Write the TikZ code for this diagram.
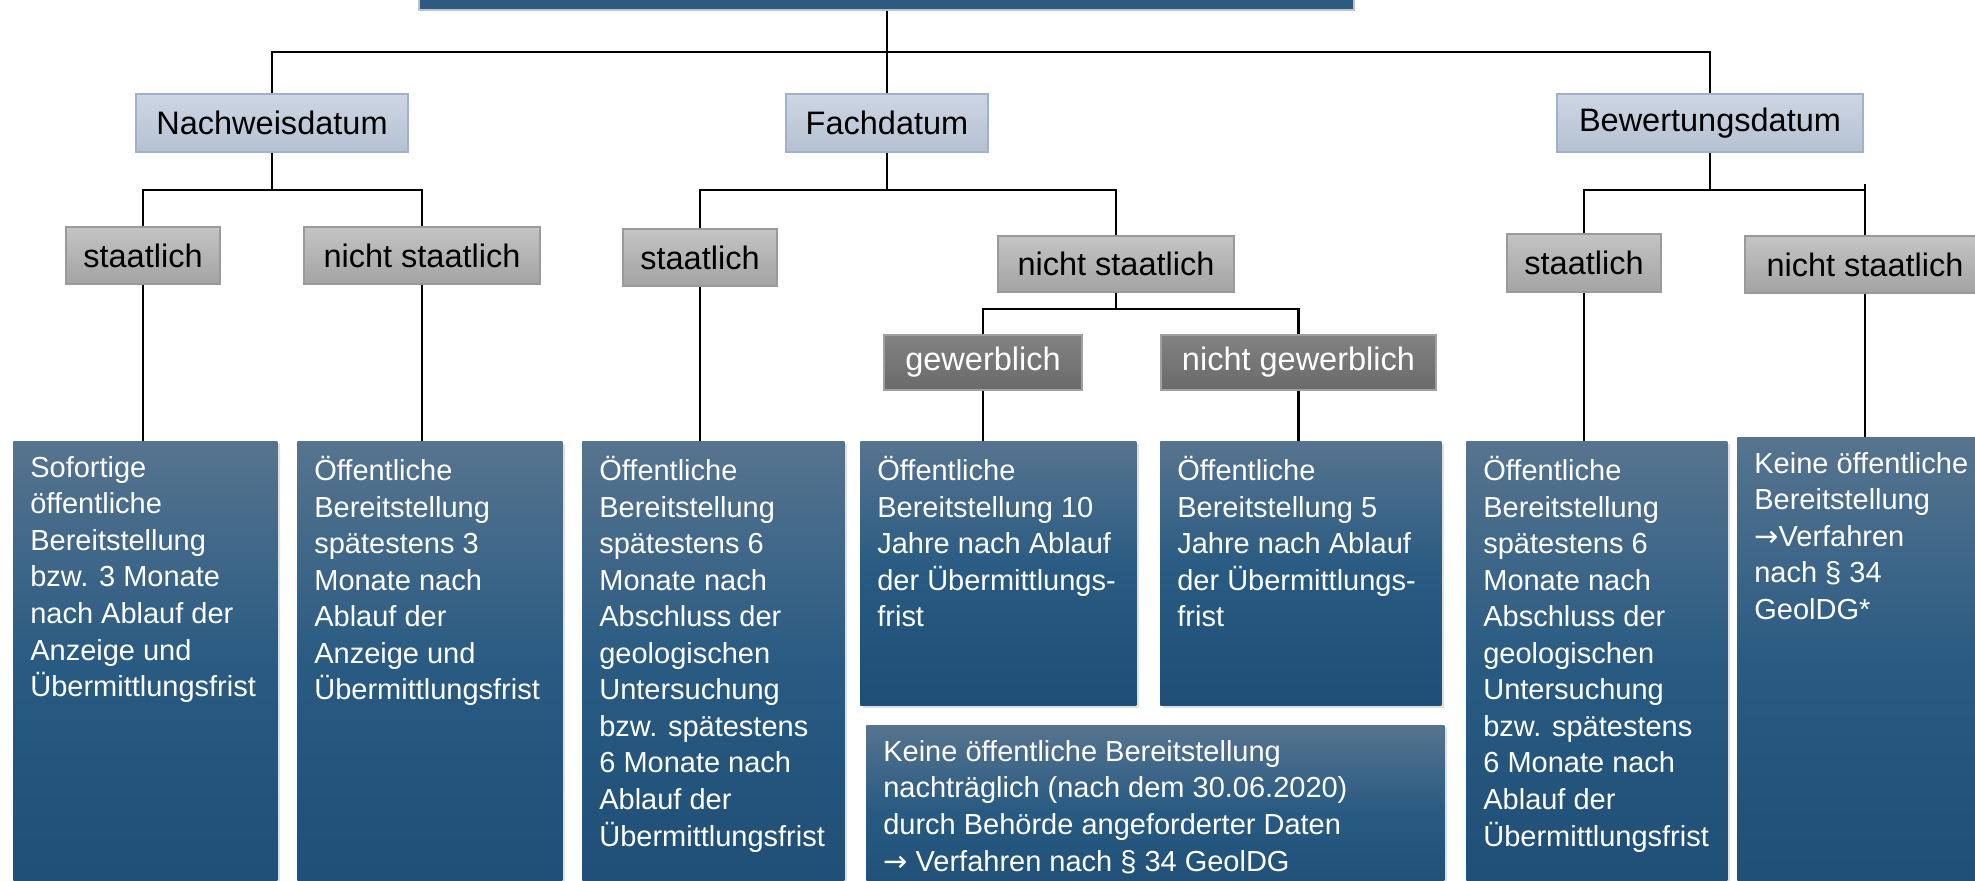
\documentclass[tikz,border=0pt]{standalone}
\usepackage{fontspec}
\setmainfont{Liberation Sans}
\newfontfamily\arrowfont{DejaVu Sans}
\usetikzlibrary{shadows}

\definecolor{headblue}{HTML}{2D5A7E}
\definecolor{headedge}{HTML}{B8C4D2}
\definecolor{lvlTop}{HTML}{CDD6E3}
\definecolor{lvlBot}{HTML}{B5C1D2}
\definecolor{lvlEdge}{HTML}{9FB1CD}
\definecolor{greyTop}{HTML}{C4C4C4}
\definecolor{greyBot}{HTML}{A3A3A3}
\definecolor{greyEdge}{HTML}{9A9A9A}
\definecolor{darkTop}{HTML}{828282}
\definecolor{darkBot}{HTML}{6A6A6A}
\definecolor{darkEdge}{HTML}{A0A0A0}
\definecolor{resTop}{HTML}{56748F}
\definecolor{resMid}{HTML}{285A82}
\definecolor{resBot}{HTML}{1F4E76}

\newcommand{\restext}[3]{\begin{minipage}[t][#2][t]{#1}
\raggedright
#3
\end{minipage}}
\newcommand{\toarrow}{{\arrowfont →}}

\tikzset{
  tree/.style={line width=1.6pt, black},
  lvlbox/.style={draw=lvlEdge, line width=0.8pt, top color=lvlTop, bottom color=lvlBot,
    inner sep=0pt, font=\fontsize{18.5}{22}\selectfont},
  greybox/.style={draw=greyEdge, line width=0.8pt, top color=greyTop, bottom color=greyBot,
    inner sep=0pt, font=\fontsize{18.5}{22}\selectfont},
  darkbox/.style={draw=darkEdge, line width=0.8pt, top color=darkTop, bottom color=darkBot,
    text=white, inner sep=0pt, font=\fontsize{18.5}{22}\selectfont},
  resbox/.style={anchor=north west, top color=resTop, bottom color=resBot, middle color=resMid,
    text=white, inner xsep=0.34cm, inner ysep=0.3cm,
    drop shadow={opacity=0.25, shadow xshift=0.05cm, shadow yshift=-0.05cm},
    font=\fontsize{16.5}{20.8}\selectfont}
}

\begin{document}
\begin{tikzpicture}[x=0.02cm, y=-0.02cm]
\clip (0,0) rectangle (1975,880);

\node[fill=headblue, draw=headedge, line width=1pt, minimum width=18.7cm, minimum height=0.6cm,
  inner sep=0pt] (head) at (886.5,-5) {};

\node[lvlbox, minimum width=5.44cm, minimum height=1.16cm] (nachweis) at (272,123) {Nachweisdatum};
\node[lvlbox, minimum width=4.04cm, minimum height=1.16cm] (fach) at (887,123) {Fachdatum};
\node[lvlbox, minimum width=6.12cm, minimum height=1.16cm] (bewertung) at (1710,123) {Bewertungsdatum};

\node[greybox, minimum width=3.08cm, minimum height=1.14cm] (n_st) at (143,255.5) {staatlich};
\node[greybox, minimum width=4.72cm, minimum height=1.14cm] (n_nst) at (422,255.5) {nicht staatlich};
\node[greybox, minimum width=3.08cm, minimum height=1.14cm] (f_st) at (700,257.5) {staatlich};
\node[greybox, minimum width=4.72cm, minimum height=1.12cm] (f_nst) at (1116,264) {nicht staatlich};
\node[greybox, minimum width=3.08cm, minimum height=1.16cm] (b_st) at (1584,263) {staatlich};
\node[greybox, minimum width=4.8cm, minimum height=1.14cm] (b_nst) at (1865,264.5) {nicht staatlich};

\node[darkbox, minimum width=3.96cm, minimum height=1.1cm] (f_gew) at (983,362.5) {gewerblich};
\node[darkbox, minimum width=5.5cm, minimum height=1.1cm] (f_ngew) at (1298.5,362.5) {nicht gewerblich};

\node[resbox] (n_st_res) at (13,441) {\restext{4.6cm}{8.58cm}{Sofortige\\ öffentliche\\ Bereitstellung\\ bzw. 3 Monate\\ nach Ablauf der\\ Anzeige und\\ Übermittlungsfrist}};
\node[resbox] (n_nst_res) at (297,441) {\restext{4.62cm}{8.58cm}{Öffentliche\\ Bereitstellung\\ spätestens 3\\ Monate nach\\ Ablauf der\\ Anzeige und\\ Übermittlungsfrist}};
\node[resbox] (f_st_res) at (582,441) {\restext{4.56cm}{8.58cm}{Öffentliche\\ Bereitstellung\\ spätestens 6\\ Monate nach\\ Abschluss der\\ geologischen\\ Untersuchung\\ bzw. spätestens\\ 6 Monate nach\\ Ablauf der\\ Übermittlungsfrist}};
\node[resbox] (gew_res) at (860,441) {\restext{4.84cm}{4.68cm}{Öffentliche\\ Bereitstellung 10\\ Jahre nach Ablauf\\ der Übermittlungs-\\ frist}};
\node[resbox] (ngew_res) at (1160,441) {\restext{4.94cm}{4.68cm}{Öffentliche\\ Bereitstellung 5\\ Jahre nach Ablauf\\ der Übermittlungs-\\ frist}};
\node[resbox] (later_res) at (866,725) {\restext{10.88cm}{2.9cm}{Keine öffentliche Bereitstellung\\ nachträglich (nach dem 30.06.2020)\\ durch Behörde angeforderter Daten\\ \toarrow{} Verfahren nach § 34 GeolDG}};
\node[resbox] (b_st_res) at (1466,441) {\restext{4.54cm}{8.58cm}{Öffentliche\\ Bereitstellung\\ spätestens 6\\ Monate nach\\ Abschluss der\\ geologischen\\ Untersuchung\\ bzw. spätestens\\ 6 Monate nach\\ Ablauf der\\ Übermittlungsfrist}};
\node[resbox] (b_nst_res) at (1737,437) {\restext{4.6cm}{8.66cm}{Keine öffentliche\\ Bereitstellung\\ \toarrow Verfahren\\ nach § 34\\ GeolDG*}};

\coordinate (bus0) at (0,52);
\coordinate (bus1) at (0,190);
\coordinate (bus2) at (0,309);

\draw[tree] (fach.north |- head.south) -- (fach.north);
\draw[tree] (nachweis.north) |- (bewertung.north |- bus0) -- (bewertung.north);

\draw[tree] (nachweis.south) -- (nachweis.south |- bus1);
\draw[tree] (n_st.north) |- (n_nst.north |- bus1) -- (n_nst.north);
\draw[tree] (fach.south) -- (fach.south |- bus1);
\draw[tree] (f_st.north) |- (f_nst.north |- bus1) -- (f_nst.north);
\draw[tree] (bewertung.south) -- (bewertung.south |- bus1);
\draw[tree] (b_st.north) |- (b_nst.north |- bus1);
\draw[tree] ([yshift=0.12cm]b_nst.north |- bus1) -- (b_nst.north);

\draw[tree] (f_nst.south) -- (f_nst.south |- bus2);
\draw[tree] (f_gew.north) |- (f_ngew.north |- bus2) -- (f_ngew.north);

\draw[tree] (n_st.south) -- (n_st.south |- n_st_res.north);
\draw[tree] (n_nst.south) -- (n_nst.south |- n_nst_res.north);
\draw[tree] (f_st.south) -- (f_st.south |- f_st_res.north);
\draw[tree] (f_gew.south) -- (f_gew.south |- gew_res.north);
\draw[tree] (f_ngew.south) -- (f_ngew.south |- ngew_res.north);
\draw[tree] (b_st.south) -- (b_st.south |- b_st_res.north);
\draw[tree] (b_nst.south) -- (b_nst.south |- b_nst_res.north);
\end{tikzpicture}
\end{document}
